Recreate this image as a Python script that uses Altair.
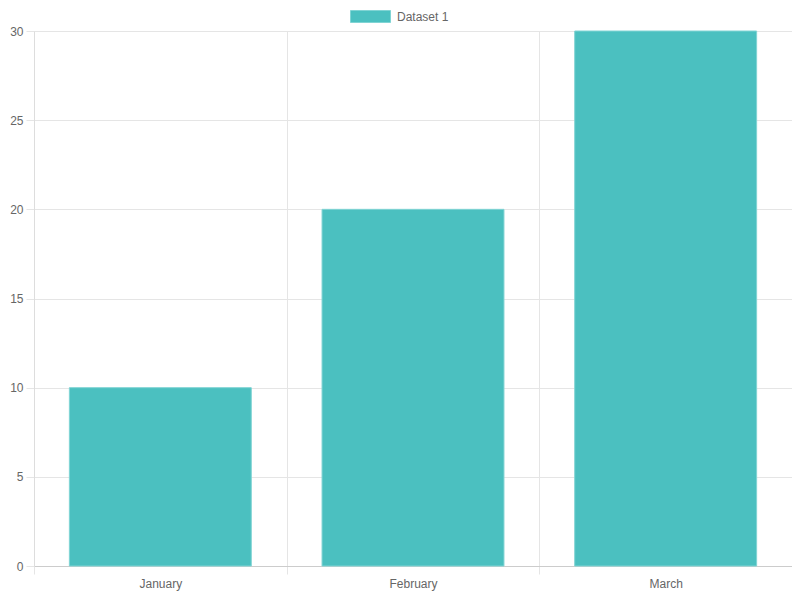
import altair as alt
import pandas as pd

months = ["January", "February", "March"]
values = [10, 20, 30]
series = ["Dataset 1", "Dataset 1", "Dataset 1"]
y_ticks = [0, 5, 10, 15, 20, 25, 30]

df = pd.DataFrame({"month": months, "value": values, "series": series})

FONT = "Liberation Sans"
GRID = "#e5e5e5"
TEXT = "#666666"

bars = alt.Chart(df).mark_bar(
    width=alt.RelativeBandSize(0.72),
    stroke="#80d4d4",
    strokeWidth=1,
).encode(
    x=alt.X(
        "month:N",
        sort=months,
        scale=alt.Scale(paddingInner=0, paddingOuter=0),
        axis=alt.Axis(
            title=None,
            labelAngle=0,
            tickBand="extent",
            grid=True,
            gridColor=GRID,
            tickColor=GRID,
            tickSize=8,
            domainColor="#cccccc",
            labelColor=TEXT,
            labelFont=FONT,
            labelFontSize=12,
            labelPadding=4,
        ),
    ),
    y=alt.Y(
        "value:Q",
        scale=alt.Scale(domain=[0, 30], nice=False),
        axis=alt.Axis(
            title=None,
            values=y_ticks,
            grid=True,
            gridColor=GRID,
            tickColor=GRID,
            tickSize=8,
            domainColor="#dddddd",
            labelColor=TEXT,
            labelFont=FONT,
            labelFontSize=12,
            labelPadding=3,
        ),
    ),
    color=alt.Color(
        "series:N",
        scale=alt.Scale(range=["#4bc0c0"]),
        legend=alt.Legend(
            title=None,
            orient="none",
            legendX=316,
            legendY=-35,
            direction="horizontal",
            symbolType="M-1,-0.3H1V0.3H-1Z",
            symbolSize=1600,
            symbolStrokeColor="#80d4d4",
            symbolStrokeWidth=1,
            symbolOpacity=1,
            labelColor=TEXT,
            labelFont=FONT,
            labelFontSize=12,
            labelOffset=6,
        ),
    ),
)

chart = bars.properties(
    width=758,
    height=535,
    autosize=alt.AutoSizeParams(type="none"),
    padding={"left": 26, "top": 23, "right": 0, "bottom": 26},
).configure_view(stroke=None)

chart.save("out.html", embed_options={"renderer": "svg", "actions": False})
